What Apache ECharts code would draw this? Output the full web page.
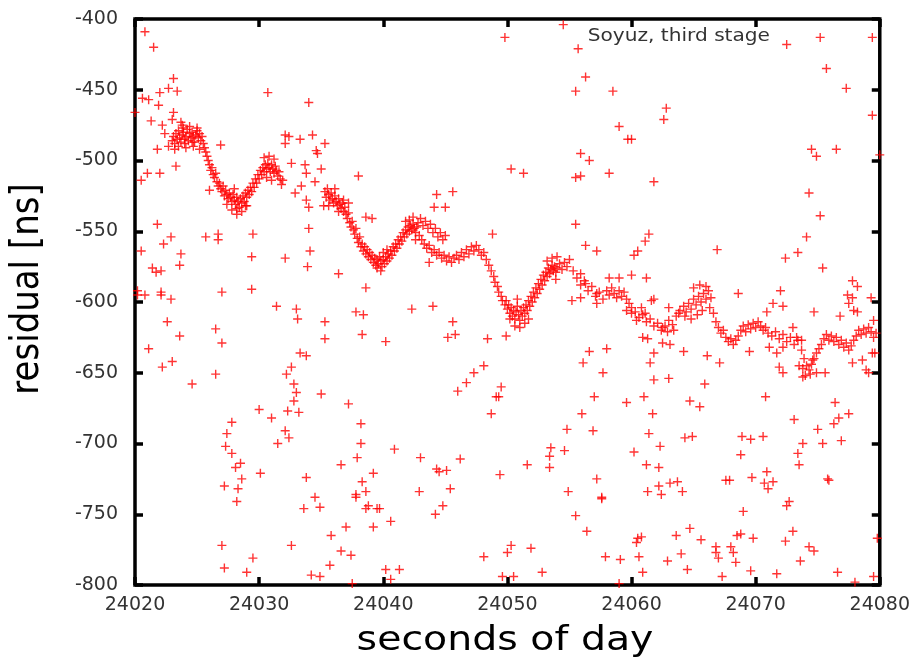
<!DOCTYPE html>
<html>
<head>
<meta charset="utf-8">
<script src="https://cdn.jsdelivr.net/npm/echarts@6/dist/echarts.min.js"></script>
<style>
html,body{margin:0;padding:0;background:#fff;}
#chart{width:913px;height:663px;}
</style>
</head>
<body>
<div id="chart"></div>
<script>
// Tick values
const xTicks = [24020, 24030, 24040, 24050, 24060, 24070, 24080];
const yTicks = [-800, -750, -700, -650, -600, -550, -500, -450, -400];

// Dense track segments [seconds of day, residual ns]
const trackA = [
[24023.0,-486],[24023.1,-483],[24023.2,-488],[24023.3,-481],[24023.4,-485],[24023.5,-479],[24023.6,-484],[24023.7,-487],[24023.8,-482],[24023.9,-480],
[24024.0,-485],[24024.1,-483],[24024.2,-478],[24024.3,-486],[24024.4,-481],[24024.5,-484],[24024.6,-480],[24024.7,-483],[24024.8,-487],[24024.9,-482],
[24025.0,-479],[24025.1,-484],[24025.2,-481],[24025.3,-486],[24025.4,-483],[24025.5,-488],[24025.6,-491],[24025.7,-494],[24025.8,-497],[24025.9,-500],
[24026.0,-503],[24026.1,-507],[24026.2,-505],[24026.3,-510],[24026.4,-512],[24026.5,-509],[24026.6,-515],[24026.7,-518],[24026.8,-516],[24026.9,-520],
[24027.0,-522],[24027.1,-518],[24027.2,-525],[24027.3,-521],[24027.4,-524],[24027.5,-527],[24027.6,-523],[24027.7,-526],[24027.8,-529],[24027.9,-524],
[24028.0,-528],[24028.1,-531],[24028.2,-526],[24028.3,-529],[24028.4,-533],[24028.5,-527],[24028.6,-530],[24028.7,-525],[24028.8,-529],[24028.9,-523],
[24029.0,-526],[24029.1,-521],[24029.2,-524],[24029.3,-519],[24029.4,-522],[24029.5,-516],[24029.6,-519],[24029.7,-513],[24029.8,-516],[24029.9,-510],
[24030.0,-513],[24030.1,-507],[24030.2,-510],[24030.3,-505],[24030.4,-508],[24030.5,-503],[24030.6,-506],[24030.7,-502],[24030.8,-505],[24030.9,-508],
[24031.0,-503],[24031.1,-506],[24031.2,-509],[24031.3,-504],[24031.4,-507],[24031.5,-511],[24031.6,-508],[24031.7,-513],[24031.8,-517],[24031.9,-514],
[24023.2,-492],[24023.5,-490],[24023.8,-475],[24024.1,-491],[24024.4,-476],[24024.7,-490],[24025.0,-477],[24025.2,-492],[24024.0,-488],[24024.6,-487],[24023.9,-477],
[24027.8,-535],[24028.2,-538],[24028.6,-536],[24028.0,-520],[24028.9,-532],[24027.4,-531],
[24030.4,-498],[24030.8,-497],[24031.2,-499],[24030.6,-512],[24031.0,-514]
];
const trackB = [
[24035.3,-522],[24035.4,-526],[24035.5,-520],[24035.6,-524],[24035.7,-528],[24035.8,-523],[24035.9,-527],[24036.0,-530],[24036.1,-525],[24036.2,-529],
[24036.3,-532],[24036.4,-527],[24036.5,-531],[24036.6,-534],[24036.7,-530],[24036.8,-536],[24036.9,-533],[24037.0,-538],[24037.1,-541],[24037.2,-537],
[24037.3,-544],[24037.4,-547],[24037.5,-543],[24037.6,-549],[24037.7,-552],[24037.8,-548],[24037.9,-555],[24038.0,-558],[24038.1,-554],[24038.2,-561],
[24038.3,-559],[24038.4,-564],[24038.5,-561],[24038.6,-566],[24038.7,-563],[24038.8,-568],[24038.9,-565],[24039.0,-570],[24039.1,-567],[24039.2,-572],
[24039.3,-569],[24039.4,-574],[24039.5,-570],[24039.6,-573],[24039.7,-568],[24039.8,-571],[24039.9,-575],[24040.0,-570],[24040.1,-573],[24040.2,-568],
[24040.3,-571],[24040.4,-566],[24040.5,-569],[24040.6,-564],[24040.7,-567],[24040.8,-561],[24040.9,-564],[24041.0,-559],[24041.1,-562],[24041.2,-556],
[24041.3,-559],[24041.4,-554],[24041.5,-557],[24041.6,-551],[24041.7,-554],[24041.8,-549],[24041.9,-552],[24042.0,-547],[24042.1,-550],[24042.2,-546],
[24042.3,-549],[24042.4,-545],[24042.5,-548],[24042.6,-551],[24042.7,-547],
[24036.1,-520],[24036.4,-536],[24036.8,-528],[24037.2,-530],[24039.8,-578],[24040.3,-563],[24040.0,-565],[24039.5,-576],
[24042.1,-542],[24042.4,-540],[24042.6,-556],[24041.8,-543]
];
const trackC = [
[24042.8,-544],[24043.0,-541],[24043.2,-546],[24043.4,-543],[24043.6,-548],[24043.8,-545],[24044.0,-551],[24044.2,-548],[24044.4,-554],[24044.6,-551],[24044.8,-556],[24045.0,-553],
[24042.9,-553],[24043.1,-556],[24043.3,-559],[24043.5,-562],[24043.7,-560],[24043.9,-565],[24044.1,-563],[24044.3,-567],[24044.5,-565],[24044.7,-569],[24044.9,-567],[24045.1,-571],[24045.3,-568],[24045.5,-572],[24045.7,-569],
[24045.9,-567],[24046.1,-570],[24046.3,-565],[24046.5,-568],[24046.7,-563],[24046.9,-566],[24047.1,-561],[24047.3,-564],[24047.5,-560],[24047.7,-563],[24047.9,-567],[24048.1,-565],[24048.3,-570],
[24048.5,-574],[24048.7,-578],[24048.9,-582],[24049.0,-586],[24049.2,-589],[24049.3,-593],[24049.5,-596],[24049.6,-599],[24049.8,-602],[24049.9,-599],
[24050.0,-605],[24050.1,-602],[24050.2,-608],[24050.3,-604],[24050.4,-610],[24050.5,-606],[24050.6,-612],[24050.7,-607],[24050.8,-603],[24050.9,-609],
[24051.0,-613],[24051.1,-606],[24051.2,-610],[24051.3,-604],[24051.4,-608],[24051.5,-602],[24051.6,-606],[24051.7,-599],[24051.8,-603],[24051.9,-596],
[24052.0,-600],[24052.1,-593],[24052.2,-597],[24052.3,-590],[24052.4,-594],[24052.5,-587],[24052.6,-591],[24052.7,-584],[24052.8,-588],[24052.9,-581],
[24053.0,-585],[24053.1,-579],[24053.2,-582],[24053.3,-576],[24053.4,-580],[24053.5,-577],[24053.6,-574],[24053.7,-578],[24053.8,-575],[24053.9,-579],
[24054.0,-576],[24054.2,-573],[24054.4,-577],[24054.6,-572],[24054.8,-575],[24055.0,-570],
[24050.6,-617],[24051.0,-618],[24051.4,-615],[24050.2,-612],[24051.7,-612],[24050.8,-598],
[24053.2,-571],[24053.6,-569],[24054.0,-568],[24053.9,-584]
];
const trackD = [
[24055.3,-578],[24055.6,-583],[24055.9,-588],[24056.2,-585],[24056.5,-592],[24056.8,-589],[24057.1,-596],[24057.4,-593],[24057.7,-598],[24058.0,-592],
[24058.2,-595],[24058.4,-590],[24058.6,-594],[24058.8,-597],[24059.0,-592],[24059.2,-596],[24059.4,-593],[24059.6,-598],[24059.8,-601],[24060.0,-604],
[24060.3,-607],[24060.6,-611],[24060.9,-609],[24061.2,-614],[24061.5,-612],[24061.8,-617],[24062.1,-615],[24062.4,-620],[24062.7,-617],[24063.0,-613],
[24063.3,-616],[24063.6,-610],[24063.9,-606],[24064.2,-603],[24064.4,-607],[24064.6,-601],[24064.8,-605],[24065.0,-598],[24065.2,-602],[24065.4,-596],
[24065.6,-600],[24065.8,-594],[24066.0,-598],[24066.2,-592],[24066.4,-597],
[24064.8,-612],[24065.3,-609],[24065.7,-606],[24065.0,-590],[24065.5,-588],[24066.0,-589],[24064.3,-610],[24066.3,-604]
];
const trackE = [
[24066.6,-608],[24066.8,-614],[24067.0,-618],[24067.2,-622],[24067.4,-620],[24067.6,-625],[24067.8,-628],[24068.0,-626],[24068.2,-630],[24068.4,-627],[24068.6,-624],
[24068.8,-620],[24069.0,-617],[24069.2,-621],[24069.4,-616],[24069.6,-619],[24069.8,-615],[24070.0,-618],[24070.2,-614],[24070.4,-617],[24070.6,-620],[24070.8,-618],[24071.0,-622],
[24071.3,-624],[24071.6,-621],[24071.9,-626],[24072.2,-623],[24072.5,-628],[24072.8,-625],[24073.1,-630],[24073.4,-627],[24073.7,-634],[24073.9,-640],
[24074.1,-645],[24074.3,-648],[24074.5,-644],[24074.7,-640],[24074.9,-636],[24075.1,-633],[24075.3,-630],[24075.5,-626],[24075.7,-623],[24075.9,-627],
[24076.1,-624],[24076.3,-628],[24076.5,-625],[24076.7,-630],[24076.9,-627],[24077.1,-632],[24077.3,-629],[24077.5,-634],[24077.7,-631],[24077.9,-627],
[24078.1,-624],[24078.3,-620],[24078.5,-623],[24078.7,-619],[24078.9,-622],[24079.1,-618],[24079.3,-621],[24079.5,-625],[24079.7,-622],
[24074.0,-652],[24074.4,-651],[24073.8,-647]
];

// Scattered residuals
const outliersTop = [
[24020.8,-409],[24021.5,-420],[24023.1,-442],[24022.7,-449],[24022.0,-452],[24023.4,-451],[24020.6,-456],[24021.1,-457],[24021.9,-461],[24020.0,-466],
[24030.7,-452],[24034.0,-459],[24023.1,-466],[24023.0,-471],[24021.3,-472],[24022.2,-475],[24022.4,-481],[24023.7,-473],[24021.8,-492],[24022.7,-490],
[24023.3,-504],[24022.0,-509],[24021.0,-509],[24020.5,-514],[24026.0,-521],[24026.9,-489],[24032.1,-482],[24032.4,-483],[24032.1,-488],[24033.3,-485],
[24034.3,-482],[24035.3,-488],[24034.6,-493],[24034.7,-495],[24032.6,-502],[24033.7,-503],[24033.8,-509],[24035.0,-506],[24038.0,-511],[24034.5,-515],
[24033.4,-518],[24032.9,-523],[24033.8,-528],[24034.0,-533],
[24054.5,-404],[24049.8,-413],[24055.7,-421],[24056.3,-441],[24055.5,-451],[24058.5,-451],[24059.0,-476],[24059.7,-485],[24055.9,-495],[24056.6,-500],
[24055.5,-512],[24055.9,-511],[24058.2,-509],[24050.3,-506],[24051.3,-509],[24044.3,-524],[24045.6,-522],[24044.1,-533],[24045.0,-533],
[24072.5,-418],[24075.2,-413],[24079.4,-413],[24075.7,-435],[24077.3,-449],[24079.4,-468],[24080.0,-496],[24062.8,-463],[24062.6,-471],[24060.0,-485],
[24061.8,-515],[24074.5,-492],[24074.9,-497],[24076.5,-492],[24074.3,-523]
];
const outliersMid = [
[24021.8,-545],[24022.9,-554],[24022.3,-559],[24020.5,-564],[24023.7,-566],[24023.6,-574],[24021.4,-576],[24021.7,-579],[24022.1,-578],[24020.2,-592],
[24020.8,-595],[24020.2,-595],[24022.1,-593],[24022.1,-595],[24022.9,-598],[24022.6,-614],[24023.6,-624],[24021.1,-633],[24023.0,-642],[24022.2,-646],
[24024.6,-658],[24025.7,-554],[24026.7,-552],[24026.7,-556],[24029.5,-552],[24029.4,-568],[24027.0,-593],[24029.4,-591],[24026.5,-619],[24027.0,-629],
[24026.5,-651],[24028.2,-534],[24029.0,-532],[24032.1,-569],[24034.0,-548],[24034.1,-564],[24033.9,-575],[24035.2,-532],[24035.6,-532],[24036.4,-580],
[24031.4,-603],[24033.0,-605],[24033.1,-612],[24035.3,-614],[24035.3,-626],[24033.3,-636],[24033.8,-638],[24032.6,-646],[24032.2,-651],[24032.8,-658],
[24033.0,-664],[24035.0,-665],[24038.6,-540],[24039.1,-541],[24038.6,-590],[24037.8,-607],[24038.4,-609],[24038.3,-623],
[24055.5,-545],[24048.8,-552],[24056.3,-560],[24057.2,-564],[24055.9,-580],[24043.7,-572],[24042.3,-605],[24044.0,-603],[24045.6,-614],[24045.2,-625],
[24045.8,-623],[24040.2,-628],[24048.4,-626],[24049.9,-624],[24056.6,-635],[24058.0,-633],[24056.1,-643],[24057.7,-650],[24048.1,-645],[24047.3,-650],
[24046.7,-657],[24046.0,-663],[24049.5,-660],[24049.1,-667],[24057.0,-667],[24056.3,-587],[24055.9,-597],[24057.2,-594],[24057.2,-601],[24055.2,-599],
[24058.2,-583],[24059.0,-583],[24059.6,-606],
[24075.2,-539],[24074.1,-554],[24073.4,-565],[24072.4,-569],[24075.4,-576],[24066.9,-563],[24061.4,-552],[24061.1,-557],[24060.5,-564],[24060.2,-567],
[24060.0,-581],[24061.2,-583],[24077.8,-585],[24078.2,-589],[24077.4,-595],[24077.8,-597],[24079.3,-597],[24068.6,-594],[24072.0,-592],[24061.8,-598],
[24061.6,-599],[24060.8,-604],[24060.0,-608],[24060.4,-613],[24061.1,-608],[24063.0,-604],[24063.8,-608],[24074.7,-607],[24076.8,-610],[24062.5,-618],
[24062.9,-621],[24063.4,-620],[24060.9,-625],[24061.3,-626],[24062.5,-629],[24063.1,-630],[24061.8,-636],[24061.5,-643],[24064.2,-635],[24066.1,-638],
[24067.1,-643],[24061.8,-655],[24063.0,-654],[24065.9,-658],[24069.5,-635],[24070.9,-607],[24071.4,-601],[24072.2,-603],[24073.0,-618],[24073.3,-625],
[24073.7,-627],[24071.1,-632],[24071.7,-636],[24072.2,-632],[24071.9,-646],[24072.2,-650],[24073.5,-645],[24073.8,-653],[24074.9,-650],[24075.6,-650],
[24077.8,-643],[24078.6,-641],[24078.9,-648],[24079.1,-650],[24079.4,-636],[24079.6,-636],[24079.5,-613],[24078.2,-607],[24077.9,-606],[24077.5,-601],
[24074.6,-641]
];
const outliersLow = [
[24027.8,-685],[24027.4,-693],[24027.3,-702],[24027.8,-707],[24028.5,-714],[24028.1,-717],[24028.6,-725],[24028.3,-732],[24027.2,-730],[24028.2,-741],
[24030.1,-721],[24030.0,-676],[24031.0,-682],[24032.1,-691],[24032.4,-696],[24031.5,-700],[24032.3,-677],[24033.2,-678],[24032.8,-670],[24037.2,-672],
[24038.2,-686],[24038.2,-700],[24037.9,-710],[24036.6,-715],[24033.8,-724],[24039.2,-721],[24038.3,-727],[24038.6,-734],[24037.8,-736],[24037.8,-738],
[24038.8,-744],[24038.6,-746],[24039.5,-746],[24034.5,-738],[24034.9,-745],[24033.6,-746],[24039.2,-759],[24037.0,-759],[24035.8,-765],[24036.6,-776],
[24037.4,-779],[24035.7,-786],[24027.0,-772],[24029.5,-781],[24027.2,-788],[24029.0,-791],[24032.6,-772],[24034.2,-793],[24034.9,-794],[24037.5,-799],
[24049.3,-667],[24048.7,-679],[24059.6,-671],[24056.0,-679],[24054.8,-690],[24056.9,-691],[24053.5,-703],[24053.4,-709],[24054.6,-705],[24053.4,-717],
[24051.6,-715],[24049.4,-722],[24040.9,-704],[24043.0,-710],[24046.2,-711],[24044.3,-718],[24044.5,-720],[24045.1,-719],[24042.9,-734],[24045.4,-732],
[24044.8,-744],[24044.2,-750],[24039.7,-746],[24040.6,-755],[24057.2,-725],[24054.9,-734],[24057.6,-738],[24057.6,-739],[24055.5,-751],[24056.4,-762],
[24050.3,-772],[24050.0,-777],[24051.9,-774],[24048.1,-780],[24052.8,-791],[24057.9,-780],[24059.1,-782],[24040.2,-789],[24041.3,-789],[24040.6,-796],
[24049.6,-794],[24050.5,-794],[24059.0,-799],
[24061.0,-667],[24064.7,-670],[24065.5,-674],[24070.8,-667],[24076.4,-671],[24077.5,-679],[24076.7,-682],[24076.3,-686],[24073.1,-683],[24075.0,-690],
[24061.7,-679],[24061.4,-693],[24062.3,-702],[24060.2,-706],[24061.2,-715],[24062.2,-717],[24064.3,-696],[24064.9,-695],[24068.9,-695],[24069.6,-697],
[24070.6,-695],[24068.8,-708],[24073.8,-700],[24073.4,-707],[24073.5,-715],[24075.4,-700],[24076.9,-698],[24062.2,-730],[24063.1,-728],[24063.7,-727],
[24061.3,-734],[24062.4,-736],[24064.1,-734],[24067.6,-726],[24067.9,-726],[24069.7,-724],[24070.9,-720],[24070.7,-728],[24071.4,-727],[24071.0,-732],
[24075.8,-725],[24075.9,-726],[24072.7,-741],[24072.5,-744],[24069.0,-748],[24060.5,-767],[24060.8,-766],[24060.4,-770],[24063.6,-765],[24064.7,-760],
[24065.6,-768],[24060.6,-780],[24064.0,-778],[24062.9,-783],[24060.9,-791],[24064.5,-789],[24066.8,-773],[24066.8,-777],[24067.0,-781],[24068.0,-773],
[24068.2,-777],[24068.4,-784],[24067.3,-794],[24068.5,-765],[24068.8,-764],[24069.8,-767],[24069.6,-790],[24071.7,-792],[24072.4,-769],[24073.0,-762],
[24074.3,-773],[24074.7,-776],[24073.6,-783],[24076.6,-791],[24078.0,-798],[24079.5,-794],[24079.8,-767]
];

const allPoints = [].concat(trackA, trackB, trackC, trackD, trackE, outliersTop, outliersMid, outliersLow);

const chart = echarts.init(document.getElementById('chart'), null, {renderer: 'canvas'});

const tickFont = {fontSize: 19, fontFamily: 'DejaVu Sans', color: '#333'};
const axisCommon = {
  type: 'value',
  axisLine: {show: false},
  axisTick: {show: true, inside: true, length: 8, lineStyle: {color: '#000', width: 3.5}},
  splitLine: {show: false}
};

chart.setOption({
  animation: false,
  backgroundColor: '#fff',
  grid: {left: 135, right: 33, top: 19, bottom: 78, show: true, borderColor: '#000', borderWidth: 3.5, backgroundColor: 'transparent'},
  xAxis: [
    Object.assign({}, axisCommon, {
      position: 'bottom', min: xTicks[0], max: xTicks[xTicks.length - 1], interval: xTicks[1] - xTicks[0],
      axisLabel: Object.assign({margin: 11, formatter: v => String(v)}, tickFont)
    }),
    Object.assign({}, axisCommon, {
      position: 'top', min: xTicks[0], max: xTicks[xTicks.length - 1], interval: xTicks[1] - xTicks[0],
      axisLabel: {show: false}
    })
  ],
  yAxis: [
    Object.assign({}, axisCommon, {
      position: 'left', min: yTicks[0], max: yTicks[yTicks.length - 1], interval: yTicks[1] - yTicks[0],
      axisLabel: Object.assign({margin: 17, formatter: v => String(v)}, tickFont)
    }),
    Object.assign({}, axisCommon, {
      position: 'right', min: yTicks[0], max: yTicks[yTicks.length - 1], interval: yTicks[1] - yTicks[0],
      axisLabel: {show: false}
    })
  ],
  graphic: [
    {type: 'text', x: 505, y: 641, scaleX: 1.16, silent: true,
     style: {text: 'seconds of day', font: '34px "DejaVu Sans"', fill: '#000', align: 'center', verticalAlign: 'middle', textAlign: 'center', textVerticalAlign: 'middle'}},
    {type: 'text', x: 28, y: 289, rotation: Math.PI / 2, scaleY: 1.15, silent: true,
     style: {text: 'residual [ns]', font: '34px "DejaVu Sans"', fill: '#000', align: 'center', verticalAlign: 'middle', textAlign: 'center', textVerticalAlign: 'middle'}},
    {type: 'text', x: 770, y: 36, scaleX: 1.15, silent: true,
     style: {text: 'Soyuz, third stage', font: '17.5px "DejaVu Sans"', fill: '#333', align: 'right', verticalAlign: 'middle', textAlign: 'right', textVerticalAlign: 'middle'}}
  ],
  series: [{
    type: 'scatter',
    xAxisIndex: 0,
    yAxisIndex: 0,
    data: allPoints,
    clip: false,
    silent: true,
    symbol: 'path://M0,5L10,5M5,0L5,10',
    symbolSize: 9,
    itemStyle: {color: 'rgba(0,0,0,0)', borderColor: '#ff0000', borderWidth: 1.4},
    emphasis: {disabled: true}
  }]
});
</script>
</body>
</html>
